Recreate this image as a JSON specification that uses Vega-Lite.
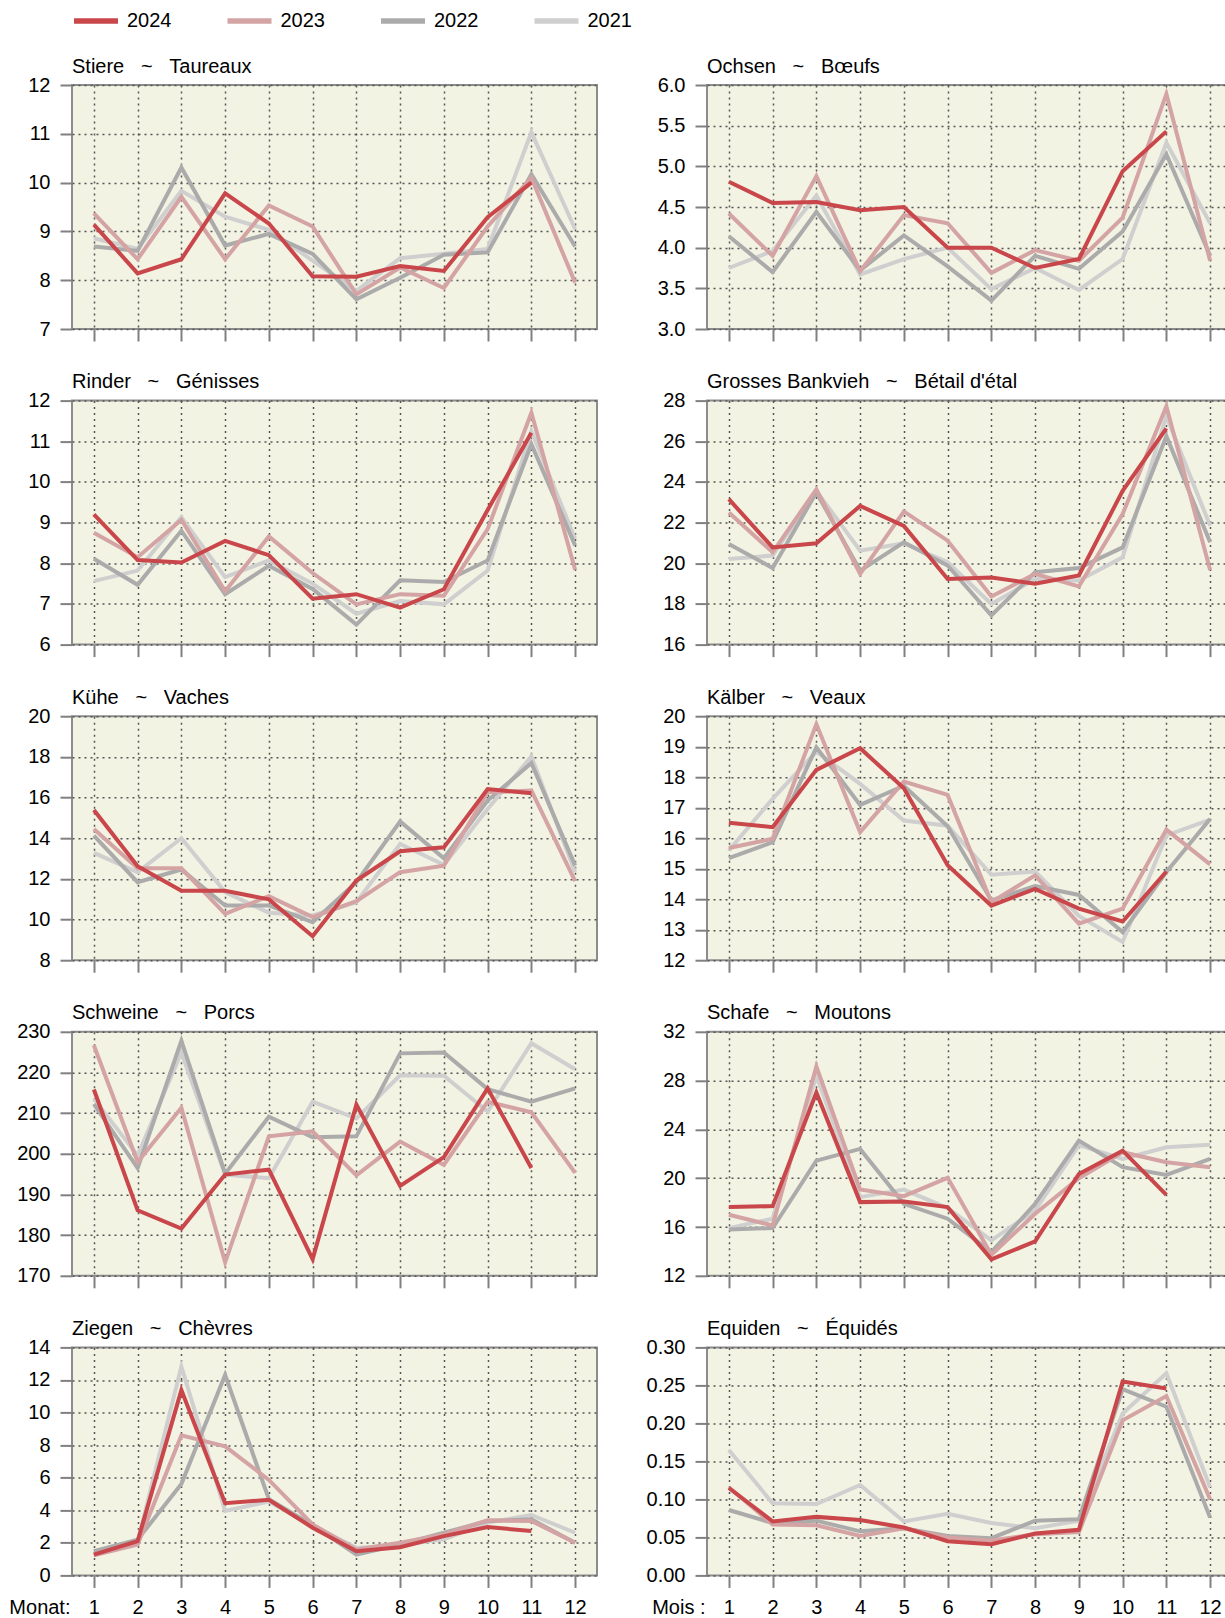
{
"$schema": "https://vega.github.io/schema/vega-lite/v6.json",
"padding": {"left": 7, "top": 7, "right": 0, "bottom": 0},
"config": {
 "font": "Liberation Sans",
 "view": {"stroke": "#8c8c8c", "strokeWidth": 2, "fill": "#F3F3E3"},
 "range": {"category": ["#C9464B", "#D4A3A3", "#ABABAB", "#CFCFCF"]},
 "axis": {"domain": false, "grid": true, "gridDash": [2, 4], "gridColor": "#555555", "gridWidth": 1.5, "gridOpacity": 1, "tickColor": "#808080", "tickWidth": 2, "tickSize": 12, "labelFontSize": 20, "labelColor": "#000000", "labelPadding": 10, "labelOverlap": false, "labelFlush": false, "titleFontSize": 20, "titleFontWeight": "normal", "titleColor": "#000000"},
 "axisX": {"labelPadding": 10},
 "axisY": {"minExtent": 64, "maxExtent": 64},
 "title": {"anchor": "start", "frame": "group", "fontSize": 20, "fontWeight": "normal", "offset": -1.5, "color": "#000000"},
 "legend": {"symbolType": "M-2,0H2", "symbolStrokeWidth": 5.5, "symbolSize": 484, "labelFontSize": 20, "labelColor": "#000000", "labelOffset": 17, "columnPadding": 44.5}
},
"columns": 2,
"spacing": {"row": 27.6, "column": 44},
"datasets": {
 "Stiere": [
  {"year":"2021","month":1,"value":8.86},{"year":"2021","month":2,"value":8.64},{"year":"2021","month":3,"value":9.83},{"year":"2021","month":4,"value":9.30},{"year":"2021","month":5,"value":9.03},{"year":"2021","month":6,"value":8.40},{"year":"2021","month":7,"value":7.78},{"year":"2021","month":8,"value":8.45},{"year":"2021","month":9,"value":8.54},{"year":"2021","month":10,"value":8.64},{"year":"2021","month":11,"value":11.03},{"year":"2021","month":12,"value":9.05},
  {"year":"2022","month":1,"value":8.69},{"year":"2022","month":2,"value":8.60},{"year":"2022","month":3,"value":10.31},{"year":"2022","month":4,"value":8.71},{"year":"2022","month":5,"value":8.95},{"year":"2022","month":6,"value":8.54},{"year":"2022","month":7,"value":7.61},{"year":"2022","month":8,"value":8.05},{"year":"2022","month":9,"value":8.52},{"year":"2022","month":10,"value":8.57},{"year":"2022","month":11,"value":10.17},{"year":"2022","month":12,"value":8.69},
  {"year":"2023","month":1,"value":9.37},{"year":"2023","month":2,"value":8.43},{"year":"2023","month":3,"value":9.71},{"year":"2023","month":4,"value":8.43},{"year":"2023","month":5,"value":9.53},{"year":"2023","month":6,"value":9.10},{"year":"2023","month":7,"value":7.71},{"year":"2023","month":8,"value":8.26},{"year":"2023","month":9,"value":7.84},{"year":"2023","month":10,"value":9.10},{"year":"2023","month":11,"value":10.10},{"year":"2023","month":12,"value":7.95},
  {"year":"2024","month":1,"value":9.14},{"year":"2024","month":2,"value":8.14},{"year":"2024","month":3,"value":8.43},{"year":"2024","month":4,"value":9.78},{"year":"2024","month":5,"value":9.16},{"year":"2024","month":6,"value":8.08},{"year":"2024","month":7,"value":8.07},{"year":"2024","month":8,"value":8.29},{"year":"2024","month":9,"value":8.19},{"year":"2024","month":10,"value":9.29},{"year":"2024","month":11,"value":10.00}
 ],
 "Ochsen": [
  {"year":"2021","month":1,"value":3.75},{"year":"2021","month":2,"value":3.96},{"year":"2021","month":3,"value":4.64},{"year":"2021","month":4,"value":3.67},{"year":"2021","month":5,"value":3.86},{"year":"2021","month":6,"value":4.00},{"year":"2021","month":7,"value":3.49},{"year":"2021","month":8,"value":3.75},{"year":"2021","month":9,"value":3.48},{"year":"2021","month":10,"value":3.86},{"year":"2021","month":11,"value":5.29},{"year":"2021","month":12,"value":4.30},
  {"year":"2022","month":1,"value":4.14},{"year":"2022","month":2,"value":3.70},{"year":"2022","month":3,"value":4.44},{"year":"2022","month":4,"value":3.72},{"year":"2022","month":5,"value":4.15},{"year":"2022","month":6,"value":3.77},{"year":"2022","month":7,"value":3.35},{"year":"2022","month":8,"value":3.90},{"year":"2022","month":9,"value":3.74},{"year":"2022","month":10,"value":4.20},{"year":"2022","month":11,"value":5.15},{"year":"2022","month":12,"value":3.90},
  {"year":"2023","month":1,"value":4.42},{"year":"2023","month":2,"value":3.90},{"year":"2023","month":3,"value":4.88},{"year":"2023","month":4,"value":3.71},{"year":"2023","month":5,"value":4.40},{"year":"2023","month":6,"value":4.30},{"year":"2023","month":7,"value":3.69},{"year":"2023","month":8,"value":3.97},{"year":"2023","month":9,"value":3.84},{"year":"2023","month":10,"value":4.37},{"year":"2023","month":11,"value":5.89},{"year":"2023","month":12,"value":3.84},
  {"year":"2024","month":1,"value":4.81},{"year":"2024","month":2,"value":4.55},{"year":"2024","month":3,"value":4.56},{"year":"2024","month":4,"value":4.46},{"year":"2024","month":5,"value":4.50},{"year":"2024","month":6,"value":4.00},{"year":"2024","month":7,"value":4.00},{"year":"2024","month":8,"value":3.75},{"year":"2024","month":9,"value":3.86},{"year":"2024","month":10,"value":4.94},{"year":"2024","month":11,"value":5.43}
 ],
 "Rinder": [
  {"year":"2021","month":1,"value":7.56},{"year":"2021","month":2,"value":7.82},{"year":"2021","month":3,"value":9.13},{"year":"2021","month":4,"value":7.66},{"year":"2021","month":5,"value":8.07},{"year":"2021","month":6,"value":7.50},{"year":"2021","month":7,"value":6.76},{"year":"2021","month":8,"value":7.07},{"year":"2021","month":9,"value":6.99},{"year":"2021","month":10,"value":7.82},{"year":"2021","month":11,"value":11.25},{"year":"2021","month":12,"value":8.60},
  {"year":"2022","month":1,"value":8.11},{"year":"2022","month":2,"value":7.47},{"year":"2022","month":3,"value":8.80},{"year":"2022","month":4,"value":7.24},{"year":"2022","month":5,"value":7.94},{"year":"2022","month":6,"value":7.37},{"year":"2022","month":7,"value":6.49},{"year":"2022","month":8,"value":7.58},{"year":"2022","month":9,"value":7.54},{"year":"2022","month":10,"value":8.07},{"year":"2022","month":11,"value":10.93},{"year":"2022","month":12,"value":8.44},
  {"year":"2023","month":1,"value":8.75},{"year":"2023","month":2,"value":8.15},{"year":"2023","month":3,"value":9.07},{"year":"2023","month":4,"value":7.31},{"year":"2023","month":5,"value":8.66},{"year":"2023","month":6,"value":7.76},{"year":"2023","month":7,"value":6.99},{"year":"2023","month":8,"value":7.24},{"year":"2023","month":9,"value":7.20},{"year":"2023","month":10,"value":8.84},{"year":"2023","month":11,"value":11.70},{"year":"2023","month":12,"value":7.84},
  {"year":"2024","month":1,"value":9.20},{"year":"2024","month":2,"value":8.08},{"year":"2024","month":3,"value":8.02},{"year":"2024","month":4,"value":8.55},{"year":"2024","month":5,"value":8.20},{"year":"2024","month":6,"value":7.13},{"year":"2024","month":7,"value":7.24},{"year":"2024","month":8,"value":6.91},{"year":"2024","month":9,"value":7.36},{"year":"2024","month":10,"value":9.31},{"year":"2024","month":11,"value":11.21}
 ],
 "Bankvieh": [
  {"year":"2021","month":1,"value":20.21},{"year":"2021","month":2,"value":20.38},{"year":"2021","month":3,"value":23.56},{"year":"2021","month":4,"value":20.62},{"year":"2021","month":5,"value":20.98},{"year":"2021","month":6,"value":20.05},{"year":"2021","month":7,"value":18.00},{"year":"2021","month":8,"value":19.23},{"year":"2021","month":9,"value":19.15},{"year":"2021","month":10,"value":20.29},{"year":"2021","month":11,"value":27.23},{"year":"2021","month":12,"value":21.84},
  {"year":"2022","month":1,"value":20.95},{"year":"2022","month":2,"value":19.77},{"year":"2022","month":3,"value":23.48},{"year":"2022","month":4,"value":19.64},{"year":"2022","month":5,"value":21.03},{"year":"2022","month":6,"value":19.89},{"year":"2022","month":7,"value":17.44},{"year":"2022","month":8,"value":19.56},{"year":"2022","month":9,"value":19.77},{"year":"2022","month":10,"value":20.78},{"year":"2022","month":11,"value":26.25},{"year":"2022","month":12,"value":21.03},
  {"year":"2023","month":1,"value":22.50},{"year":"2023","month":2,"value":20.54},{"year":"2023","month":3,"value":23.64},{"year":"2023","month":4,"value":19.48},{"year":"2023","month":5,"value":22.55},{"year":"2023","month":6,"value":21.11},{"year":"2023","month":7,"value":18.37},{"year":"2023","month":8,"value":19.48},{"year":"2023","month":9,"value":18.86},{"year":"2023","month":10,"value":22.42},{"year":"2023","month":11,"value":27.72},{"year":"2023","month":12,"value":19.67},
  {"year":"2024","month":1,"value":23.15},{"year":"2024","month":2,"value":20.78},{"year":"2024","month":3,"value":20.98},{"year":"2024","month":4,"value":22.82},{"year":"2024","month":5,"value":21.84},{"year":"2024","month":6,"value":19.23},{"year":"2024","month":7,"value":19.30},{"year":"2024","month":8,"value":18.99},{"year":"2024","month":9,"value":19.40},{"year":"2024","month":10,"value":23.56},{"year":"2024","month":11,"value":26.63}
 ],
 "Kuehe": [
  {"year":"2021","month":1,"value":13.28},{"year":"2021","month":2,"value":12.33},{"year":"2021","month":3,"value":14.00},{"year":"2021","month":4,"value":11.35},{"year":"2021","month":5,"value":10.33},{"year":"2021","month":6,"value":10.20},{"year":"2021","month":7,"value":10.85},{"year":"2021","month":8,"value":13.72},{"year":"2021","month":9,"value":12.69},{"year":"2021","month":10,"value":15.44},{"year":"2021","month":11,"value":18.02},{"year":"2021","month":12,"value":12.33},
  {"year":"2022","month":1,"value":14.13},{"year":"2022","month":2,"value":11.84},{"year":"2022","month":3,"value":12.46},{"year":"2022","month":4,"value":10.69},{"year":"2022","month":5,"value":10.69},{"year":"2022","month":6,"value":9.87},{"year":"2022","month":7,"value":11.84},{"year":"2022","month":8,"value":14.82},{"year":"2022","month":9,"value":13.01},{"year":"2022","month":10,"value":15.85},{"year":"2022","month":11,"value":17.70},{"year":"2022","month":12,"value":12.65},
  {"year":"2023","month":1,"value":14.45},{"year":"2023","month":2,"value":12.52},{"year":"2023","month":3,"value":12.52},{"year":"2023","month":4,"value":10.28},{"year":"2023","month":5,"value":11.15},{"year":"2023","month":6,"value":10.12},{"year":"2023","month":7,"value":10.90},{"year":"2023","month":8,"value":12.33},{"year":"2023","month":9,"value":12.65},{"year":"2023","month":10,"value":16.26},{"year":"2023","month":11,"value":16.34},{"year":"2023","month":12,"value":11.89},
  {"year":"2024","month":1,"value":15.39},{"year":"2024","month":2,"value":12.62},{"year":"2024","month":3,"value":11.41},{"year":"2024","month":4,"value":11.41},{"year":"2024","month":5,"value":10.99},{"year":"2024","month":6,"value":9.18},{"year":"2024","month":7,"value":11.92},{"year":"2024","month":8,"value":13.36},{"year":"2024","month":9,"value":13.55},{"year":"2024","month":10,"value":16.42},{"year":"2024","month":11,"value":16.21}
 ],
 "Kaelber": [
  {"year":"2021","month":1,"value":15.60},{"year":"2021","month":2,"value":17.29},{"year":"2021","month":3,"value":18.84},{"year":"2021","month":4,"value":17.78},{"year":"2021","month":5,"value":16.58},{"year":"2021","month":6,"value":16.41},{"year":"2021","month":7,"value":14.80},{"year":"2021","month":8,"value":14.91},{"year":"2021","month":9,"value":13.45},{"year":"2021","month":10,"value":12.60},{"year":"2021","month":11,"value":16.09},{"year":"2021","month":12,"value":16.61},
  {"year":"2022","month":1,"value":15.35},{"year":"2022","month":2,"value":15.87},{"year":"2022","month":3,"value":18.98},{"year":"2022","month":4,"value":17.09},{"year":"2022","month":5,"value":17.72},{"year":"2022","month":6,"value":16.39},{"year":"2022","month":7,"value":13.96},{"year":"2022","month":8,"value":14.43},{"year":"2022","month":9,"value":14.14},{"year":"2022","month":10,"value":12.92},{"year":"2022","month":11,"value":14.89},{"year":"2022","month":12,"value":16.63},
  {"year":"2023","month":1,"value":15.68},{"year":"2023","month":2,"value":15.98},{"year":"2023","month":3,"value":19.74},{"year":"2023","month":4,"value":16.20},{"year":"2023","month":5,"value":17.86},{"year":"2023","month":6,"value":17.42},{"year":"2023","month":7,"value":13.90},{"year":"2023","month":8,"value":14.78},{"year":"2023","month":9,"value":13.20},{"year":"2023","month":10,"value":13.69},{"year":"2023","month":11,"value":16.28},{"year":"2023","month":12,"value":15.14},
  {"year":"2024","month":1,"value":16.51},{"year":"2024","month":2,"value":16.36},{"year":"2024","month":3,"value":18.24},{"year":"2024","month":4,"value":18.95},{"year":"2024","month":5,"value":17.64},{"year":"2024","month":6,"value":15.11},{"year":"2024","month":7,"value":13.79},{"year":"2024","month":8,"value":14.34},{"year":"2024","month":9,"value":13.69},{"year":"2024","month":10,"value":13.27},{"year":"2024","month":11,"value":14.91}
 ],
 "Schweine": [
  {"year":"2021","month":1,"value":213.5},{"year":"2021","month":2,"value":199.6},{"year":"2021","month":3,"value":224.9},{"year":"2021","month":4,"value":194.9},{"year":"2021","month":5,"value":194.0},{"year":"2021","month":6,"value":212.8},{"year":"2021","month":7,"value":208.7},{"year":"2021","month":8,"value":219.3},{"year":"2021","month":9,"value":219.2},{"year":"2021","month":10,"value":210.4},{"year":"2021","month":11,"value":227.2},{"year":"2021","month":12,"value":220.8},
  {"year":"2022","month":1,"value":212.2},{"year":"2022","month":2,"value":196.5},{"year":"2022","month":3,"value":227.8},{"year":"2022","month":4,"value":195.1},{"year":"2022","month":5,"value":209.1},{"year":"2022","month":6,"value":204.1},{"year":"2022","month":7,"value":204.3},{"year":"2022","month":8,"value":224.7},{"year":"2022","month":9,"value":224.9},{"year":"2022","month":10,"value":215.9},{"year":"2022","month":11,"value":212.8},{"year":"2022","month":12,"value":216.1},
  {"year":"2023","month":1,"value":226.7},{"year":"2023","month":2,"value":198.0},{"year":"2023","month":3,"value":211.3},{"year":"2023","month":4,"value":173.3},{"year":"2023","month":5,"value":204.3},{"year":"2023","month":6,"value":205.5},{"year":"2023","month":7,"value":194.7},{"year":"2023","month":8,"value":203.0},{"year":"2023","month":9,"value":197.3},{"year":"2023","month":10,"value":212.8},{"year":"2023","month":11,"value":210.2},{"year":"2023","month":12,"value":195.3},
  {"year":"2024","month":1,"value":215.8},{"year":"2024","month":2,"value":186.1},{"year":"2024","month":3,"value":181.6},{"year":"2024","month":4,"value":194.9},{"year":"2024","month":5,"value":196.1},{"year":"2024","month":6,"value":174.1},{"year":"2024","month":7,"value":212.1},{"year":"2024","month":8,"value":192.1},{"year":"2024","month":9,"value":199.2},{"year":"2024","month":10,"value":216.1},{"year":"2024","month":11,"value":196.5}
 ],
 "Schafe": [
  {"year":"2021","month":1,"value":15.91},{"year":"2021","month":2,"value":16.68},{"year":"2021","month":3,"value":28.39},{"year":"2021","month":4,"value":18.45},{"year":"2021","month":5,"value":19.07},{"year":"2021","month":6,"value":17.55},{"year":"2021","month":7,"value":14.90},{"year":"2021","month":8,"value":17.36},{"year":"2021","month":9,"value":22.72},{"year":"2021","month":10,"value":21.58},{"year":"2021","month":11,"value":22.53},{"year":"2021","month":12,"value":22.75},
  {"year":"2022","month":1,"value":15.80},{"year":"2022","month":2,"value":15.91},{"year":"2022","month":3,"value":21.44},{"year":"2022","month":4,"value":22.40},{"year":"2022","month":5,"value":17.90},{"year":"2022","month":6,"value":16.68},{"year":"2022","month":7,"value":13.95},{"year":"2022","month":8,"value":17.90},{"year":"2022","month":9,"value":23.08},{"year":"2022","month":10,"value":20.90},{"year":"2022","month":11,"value":20.27},{"year":"2022","month":12,"value":21.58},
  {"year":"2023","month":1,"value":17.00},{"year":"2023","month":2,"value":16.13},{"year":"2023","month":3,"value":29.16},{"year":"2023","month":4,"value":19.07},{"year":"2023","month":5,"value":18.53},{"year":"2023","month":6,"value":20.03},{"year":"2023","month":7,"value":13.73},{"year":"2023","month":8,"value":17.08},{"year":"2023","month":9,"value":20.00},{"year":"2023","month":10,"value":22.13},{"year":"2023","month":11,"value":21.31},{"year":"2023","month":12,"value":20.90},
  {"year":"2024","month":1,"value":17.63},{"year":"2024","month":2,"value":17.71},{"year":"2024","month":3,"value":27.03},{"year":"2024","month":4,"value":18.04},{"year":"2024","month":5,"value":18.09},{"year":"2024","month":6,"value":17.63},{"year":"2024","month":7,"value":13.35},{"year":"2024","month":8,"value":14.82},{"year":"2024","month":9,"value":20.35},{"year":"2024","month":10,"value":22.26},{"year":"2024","month":11,"value":18.64}
 ],
 "Ziegen": [
  {"year":"2021","month":1,"value":1.44},{"year":"2021","month":2,"value":2.06},{"year":"2021","month":3,"value":12.82},{"year":"2021","month":4,"value":3.96},{"year":"2021","month":5,"value":4.54},{"year":"2021","month":6,"value":3.03},{"year":"2021","month":7,"value":1.69},{"year":"2021","month":8,"value":1.86},{"year":"2021","month":9,"value":2.21},{"year":"2021","month":10,"value":3.24},{"year":"2021","month":11,"value":3.71},{"year":"2021","month":12,"value":2.62},
  {"year":"2022","month":1,"value":1.48},{"year":"2022","month":2,"value":2.20},{"year":"2022","month":3,"value":5.61},{"year":"2022","month":4,"value":12.31},{"year":"2022","month":5,"value":4.68},{"year":"2022","month":6,"value":3.09},{"year":"2022","month":7,"value":1.28},{"year":"2022","month":8,"value":1.90},{"year":"2022","month":9,"value":2.62},{"year":"2022","month":10,"value":3.34},{"year":"2022","month":11,"value":3.44},{"year":"2022","month":12,"value":2.00},
  {"year":"2023","month":1,"value":1.24},{"year":"2023","month":2,"value":1.90},{"year":"2023","month":3,"value":8.60},{"year":"2023","month":4,"value":7.92},{"year":"2023","month":5,"value":5.86},{"year":"2023","month":6,"value":3.13},{"year":"2023","month":7,"value":1.59},{"year":"2023","month":8,"value":2.00},{"year":"2023","month":9,"value":2.52},{"year":"2023","month":10,"value":3.38},{"year":"2023","month":11,"value":3.34},{"year":"2023","month":12,"value":2.00},
  {"year":"2024","month":1,"value":1.28},{"year":"2024","month":2,"value":2.10},{"year":"2024","month":3,"value":11.38},{"year":"2024","month":4,"value":4.43},{"year":"2024","month":5,"value":4.64},{"year":"2024","month":6,"value":2.93},{"year":"2024","month":7,"value":1.48},{"year":"2024","month":8,"value":1.73},{"year":"2024","month":9,"value":2.41},{"year":"2024","month":10,"value":2.97},{"year":"2024","month":11,"value":2.72}
 ],
 "Equiden": [
  {"year":"2021","month":1,"value":0.165},{"year":"2021","month":2,"value":0.095},{"year":"2021","month":3,"value":0.094},{"year":"2021","month":4,"value":0.119},{"year":"2021","month":5,"value":0.071},{"year":"2021","month":6,"value":0.081},{"year":"2021","month":7,"value":0.069},{"year":"2021","month":8,"value":0.062},{"year":"2021","month":9,"value":0.072},{"year":"2021","month":10,"value":0.213},{"year":"2021","month":11,"value":0.266},{"year":"2021","month":12,"value":0.116},
  {"year":"2022","month":1,"value":0.086},{"year":"2022","month":2,"value":0.069},{"year":"2022","month":3,"value":0.072},{"year":"2022","month":4,"value":0.058},{"year":"2022","month":5,"value":0.062},{"year":"2022","month":6,"value":0.052},{"year":"2022","month":7,"value":0.049},{"year":"2022","month":8,"value":0.072},{"year":"2022","month":9,"value":0.074},{"year":"2022","month":10,"value":0.245},{"year":"2022","month":11,"value":0.222},{"year":"2022","month":12,"value":0.076},
  {"year":"2023","month":1,"value":0.116},{"year":"2023","month":2,"value":0.067},{"year":"2023","month":3,"value":0.066},{"year":"2023","month":4,"value":0.052},{"year":"2023","month":5,"value":0.062},{"year":"2023","month":6,"value":0.050},{"year":"2023","month":7,"value":0.046},{"year":"2023","month":8,"value":0.054},{"year":"2023","month":9,"value":0.057},{"year":"2023","month":10,"value":0.204},{"year":"2023","month":11,"value":0.236},{"year":"2023","month":12,"value":0.100},
  {"year":"2024","month":1,"value":0.115},{"year":"2024","month":2,"value":0.071},{"year":"2024","month":3,"value":0.077},{"year":"2024","month":4,"value":0.073},{"year":"2024","month":5,"value":0.063},{"year":"2024","month":6,"value":0.045},{"year":"2024","month":7,"value":0.041},{"year":"2024","month":8,"value":0.055},{"year":"2024","month":9,"value":0.060},{"year":"2024","month":10,"value":0.255},{"year":"2024","month":11,"value":0.246}
 ]
},
"concat": [
 {"title": {"text": "Stiere\u00a0\u00a0\u00a0~\u00a0\u00a0\u00a0Taureaux"}, "width": 525, "height": 244, "data": {"name": "Stiere"}, "mark": {"type": "line", "strokeWidth": 4},
  "encoding": {
   "x": {"field": "month", "type": "quantitative", "scale": {"domain": [0.5, 12.5], "nice": false, "zero": false}, "axis": {"values": [1,2,3,4,5,6,7,8,9,10,11,12], "labels": false, "title": null}},
   "y": {"field": "value", "type": "quantitative", "scale": {"domain": [7, 12], "nice": false, "zero": false}, "axis": {"values": [7,8,9,10,11,12], "title": null}},
   "color": {"field": "year", "type": "nominal", "sort": "descending", "legend": {"orient": "none", "legendX": 10, "legendY": -78, "direction": "horizontal", "title": null}}}},
 {"title": {"text": "Ochsen\u00a0\u00a0\u00a0~\u00a0\u00a0\u00a0Bœufs"}, "width": 525, "height": 244, "data": {"name": "Ochsen"}, "mark": {"type": "line", "strokeWidth": 4},
  "encoding": {
   "x": {"field": "month", "type": "quantitative", "scale": {"domain": [0.5, 12.5], "nice": false, "zero": false}, "axis": {"values": [1,2,3,4,5,6,7,8,9,10,11,12], "labels": false, "title": null}},
   "y": {"field": "value", "type": "quantitative", "scale": {"domain": [3, 6], "nice": false, "zero": false}, "axis": {"values": [3,3.5,4,4.5,5,5.5,6], "format": ".1f", "title": null}},
   "color": {"field": "year", "type": "nominal", "sort": "descending", "legend": {"orient": "none", "legendX": 10, "legendY": -78, "direction": "horizontal", "title": null}}}},
 {"title": {"text": "Rinder\u00a0\u00a0\u00a0~\u00a0\u00a0\u00a0Génisses"}, "width": 525, "height": 244, "data": {"name": "Rinder"}, "mark": {"type": "line", "strokeWidth": 4},
  "encoding": {
   "x": {"field": "month", "type": "quantitative", "scale": {"domain": [0.5, 12.5], "nice": false, "zero": false}, "axis": {"values": [1,2,3,4,5,6,7,8,9,10,11,12], "labels": false, "title": null}},
   "y": {"field": "value", "type": "quantitative", "scale": {"domain": [6, 12], "nice": false, "zero": false}, "axis": {"values": [6,7,8,9,10,11,12], "title": null}},
   "color": {"field": "year", "type": "nominal", "sort": "descending", "legend": {"orient": "none", "legendX": 10, "legendY": -78, "direction": "horizontal", "title": null}}}},
 {"title": {"text": "Grosses Bankvieh\u00a0\u00a0\u00a0~\u00a0\u00a0\u00a0Bétail d'étal"}, "width": 525, "height": 244, "data": {"name": "Bankvieh"}, "mark": {"type": "line", "strokeWidth": 4},
  "encoding": {
   "x": {"field": "month", "type": "quantitative", "scale": {"domain": [0.5, 12.5], "nice": false, "zero": false}, "axis": {"values": [1,2,3,4,5,6,7,8,9,10,11,12], "labels": false, "title": null}},
   "y": {"field": "value", "type": "quantitative", "scale": {"domain": [16, 28], "nice": false, "zero": false}, "axis": {"values": [16,18,20,22,24,26,28], "title": null}},
   "color": {"field": "year", "type": "nominal", "sort": "descending", "legend": {"orient": "none", "legendX": 10, "legendY": -78, "direction": "horizontal", "title": null}}}},
 {"title": {"text": "Kühe\u00a0\u00a0\u00a0~\u00a0\u00a0\u00a0Vaches"}, "width": 525, "height": 244, "data": {"name": "Kuehe"}, "mark": {"type": "line", "strokeWidth": 4},
  "encoding": {
   "x": {"field": "month", "type": "quantitative", "scale": {"domain": [0.5, 12.5], "nice": false, "zero": false}, "axis": {"values": [1,2,3,4,5,6,7,8,9,10,11,12], "labels": false, "title": null}},
   "y": {"field": "value", "type": "quantitative", "scale": {"domain": [8, 20], "nice": false, "zero": false}, "axis": {"values": [8,10,12,14,16,18,20], "title": null}},
   "color": {"field": "year", "type": "nominal", "sort": "descending", "legend": {"orient": "none", "legendX": 10, "legendY": -78, "direction": "horizontal", "title": null}}}},
 {"title": {"text": "Kälber\u00a0\u00a0\u00a0~\u00a0\u00a0\u00a0Veaux"}, "width": 525, "height": 244, "data": {"name": "Kaelber"}, "mark": {"type": "line", "strokeWidth": 4},
  "encoding": {
   "x": {"field": "month", "type": "quantitative", "scale": {"domain": [0.5, 12.5], "nice": false, "zero": false}, "axis": {"values": [1,2,3,4,5,6,7,8,9,10,11,12], "labels": false, "title": null}},
   "y": {"field": "value", "type": "quantitative", "scale": {"domain": [12, 20], "nice": false, "zero": false}, "axis": {"values": [12,13,14,15,16,17,18,19,20], "title": null}},
   "color": {"field": "year", "type": "nominal", "sort": "descending", "legend": {"orient": "none", "legendX": 10, "legendY": -78, "direction": "horizontal", "title": null}}}},
 {"title": {"text": "Schweine\u00a0\u00a0\u00a0~\u00a0\u00a0\u00a0Porcs"}, "width": 525, "height": 244, "data": {"name": "Schweine"}, "mark": {"type": "line", "strokeWidth": 4},
  "encoding": {
   "x": {"field": "month", "type": "quantitative", "scale": {"domain": [0.5, 12.5], "nice": false, "zero": false}, "axis": {"values": [1,2,3,4,5,6,7,8,9,10,11,12], "labels": false, "title": null}},
   "y": {"field": "value", "type": "quantitative", "scale": {"domain": [170, 230], "nice": false, "zero": false}, "axis": {"values": [170,180,190,200,210,220,230], "title": null}},
   "color": {"field": "year", "type": "nominal", "sort": "descending", "legend": {"orient": "none", "legendX": 10, "legendY": -78, "direction": "horizontal", "title": null}}}},
 {"title": {"text": "Schafe\u00a0\u00a0\u00a0~\u00a0\u00a0\u00a0Moutons"}, "width": 525, "height": 244, "data": {"name": "Schafe"}, "mark": {"type": "line", "strokeWidth": 4},
  "encoding": {
   "x": {"field": "month", "type": "quantitative", "scale": {"domain": [0.5, 12.5], "nice": false, "zero": false}, "axis": {"values": [1,2,3,4,5,6,7,8,9,10,11,12], "labels": false, "title": null}},
   "y": {"field": "value", "type": "quantitative", "scale": {"domain": [12, 32], "nice": false, "zero": false}, "axis": {"values": [12,16,20,24,28,32], "title": null}},
   "color": {"field": "year", "type": "nominal", "sort": "descending", "legend": {"orient": "none", "legendX": 10, "legendY": -78, "direction": "horizontal", "title": null}}}},
 {"title": {"text": "Ziegen\u00a0\u00a0\u00a0~\u00a0\u00a0\u00a0Chèvres"}, "width": 525, "height": 228, "data": {"name": "Ziegen"}, "mark": {"type": "line", "strokeWidth": 4},
  "encoding": {
   "x": {"field": "month", "type": "quantitative", "scale": {"domain": [0.5, 12.5], "nice": false, "zero": false}, "axis": {"values": [1,2,3,4,5,6,7,8,9,10,11,12], "title": "Monat:", "titleX": -2, "titleY": 22, "titleAlign": "right", "titleBaseline": "top", "titleAnchor": "start"}},
   "y": {"field": "value", "type": "quantitative", "scale": {"domain": [0, 14], "nice": false, "zero": false}, "axis": {"values": [0,2,4,6,8,10,12,14], "title": null}},
   "color": {"field": "year", "type": "nominal", "sort": "descending", "legend": {"orient": "none", "legendX": 10, "legendY": -78, "direction": "horizontal", "title": null}}}},
 {"title": {"text": "Equiden\u00a0\u00a0\u00a0~\u00a0\u00a0\u00a0Équidés"}, "width": 525, "height": 228, "data": {"name": "Equiden"}, "mark": {"type": "line", "strokeWidth": 4},
  "encoding": {
   "x": {"field": "month", "type": "quantitative", "scale": {"domain": [0.5, 12.5], "nice": false, "zero": false}, "axis": {"values": [1,2,3,4,5,6,7,8,9,10,11,12], "title": "Mois :", "titleX": -2, "titleY": 22, "titleAlign": "right", "titleBaseline": "top", "titleAnchor": "start"}},
   "y": {"field": "value", "type": "quantitative", "scale": {"domain": [0, 0.3], "nice": false, "zero": false}, "axis": {"values": [0,0.05,0.1,0.15,0.2,0.25,0.3], "format": ".2f", "title": null}},
   "color": {"field": "year", "type": "nominal", "sort": "descending", "legend": {"orient": "none", "legendX": 10, "legendY": -78, "direction": "horizontal", "title": null}}}}
]
}
